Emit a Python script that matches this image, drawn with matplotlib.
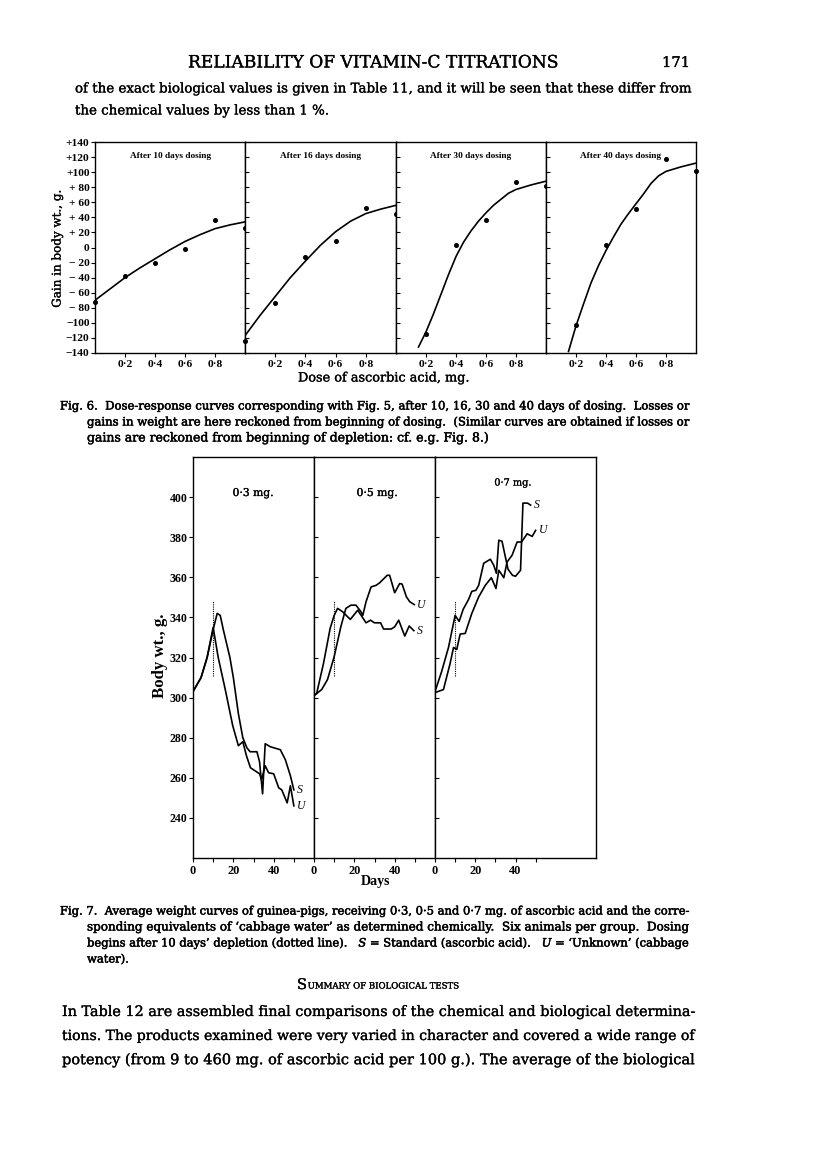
import matplotlib
matplotlib.use('Agg')
import matplotlib.pyplot as plt
import matplotlib.patheffects as pe

plt.rcParams['font.family'] = ['Liberation Serif', 'DejaVu Serif']
plt.rcParams['mathtext.fontset'] = 'dejavuserif'

W, H = 816, 1164

# ---- Fig. 6 data: dose (mg) vs gain in body weight (g)
dose_ticks = [0.2, 0.4, 0.6, 0.8]
dose_labels = ['0·2', '0·4', '0·6', '0·8']
gain_ticks = list(range(-140, 141, 20))
gain_labels = ['−140', '−120', '−100', '− 80', '− 60', '− 40', '− 20', '0',
               '+ 20', '+ 40', '+ 60', '+ 80', '+100', '+120', '+140']
dosing_titles = ['After 10 days dosing', 'After 16 days dosing',
                 'After 30 days dosing', 'After 40 days dosing']

pts_10_x = [0.0, 0.2, 0.4, 0.6, 0.8, 1.0]
pts_10_y = [-72, -38, -21, -2, 36, 26]
pts_16_x = [0.0, 0.2, 0.4, 0.6, 0.8, 1.0]
pts_16_y = [-124, -73, -12, 8, 53, 45]
pts_30_x = [0.2, 0.4, 0.6, 0.8, 1.0]
pts_30_y = [-115, 3, 37, 87, 81]
pts_40_x = [0.2, 0.4, 0.6, 0.8, 1.0]
pts_40_y = [-103, 3, 51, 118, 102]

curve_10_x = [0.0, 0.1, 0.2, 0.3, 0.4, 0.5, 0.6, 0.7, 0.8, 0.9, 1.0]
curve_10_y = [-70, -55, -40, -27, -15, -3, 8, 17, 25, 30, 34]
curve_16_x = [0.0, 0.1, 0.2, 0.3, 0.4, 0.5, 0.6, 0.7, 0.8, 0.9, 1.0]
curve_16_y = [-117, -90, -65, -40, -18, 3, 21, 35, 45, 51, 56]
curve_30_x = [0.15, 0.2, 0.25, 0.3, 0.35, 0.4, 0.45, 0.5, 0.55, 0.6, 0.65, 0.7, 0.75, 0.8, 0.9, 1.0]
curve_30_y = [-132, -112, -88, -62, -36, -12, 7, 22, 35, 46, 56, 64, 72, 77, 83, 88]
curve_40_x = [0.15, 0.2, 0.25, 0.3, 0.35, 0.4, 0.45, 0.5, 0.55, 0.6, 0.65, 0.7, 0.75, 0.8, 0.9, 1.0]
curve_40_y = [-138, -104, -75, -47, -24, -4, 14, 31, 45, 58, 71, 85, 95, 101, 107, 112]

# ---- Fig. 7 data: days vs body weight (g), S = standard, U = unknown
dose_titles = ['0·3 mg.', '0·5 mg.', '0·7 mg.']
wt_ticks = [240, 260, 280, 300, 320, 340, 360, 380, 400]

s03_days = [0, 4, 7, 10, 12, 13.5, 15, 18.3, 20, 22.5, 24.7, 26.7, 28.3, 31.7, 33, 34.5, 35.8, 38.3, 43.3, 45.8, 48.3, 50]
s03_wt = [303, 310, 320, 334, 342, 341, 334, 320, 310, 292, 280, 275, 273, 273, 268, 252, 277, 275.5, 274, 269, 261, 254]
u03_days = [0, 4, 7, 10, 12.5, 16, 19.7, 22.5, 24.7, 26.5, 28.5, 31.5, 33, 34, 35.8, 37.5, 40, 42.5, 44, 46.7, 48.3, 50]
u03_wt = [303, 310, 320, 335, 320, 304, 286, 276, 278, 271, 265, 263, 262, 259, 266, 262.5, 262, 255, 254, 247.5, 256, 246]

s05_days = [0, 1.3, 4.7, 8, 10, 11.7, 14.2, 18, 21.7, 25.8, 28, 30, 33, 34.5, 38.3, 40, 42, 45, 47.2, 49.5]
s05_wt = [301, 302, 317, 334.5, 341, 344.5, 342.8, 339, 343.6, 337.3, 338.6, 337.3, 337.3, 334.2, 334.2, 335.3, 338.6, 330.7, 335.7, 333.4]
u05_days = [0, 3.8, 6.7, 10, 13.3, 15.8, 18.3, 20.8, 23.3, 24.2, 25.8, 28.3, 30.8, 32.5, 36.3, 37.5, 40, 42.5, 43.7, 45.8, 47.5, 49.7]
u05_wt = [301, 304, 309, 320.4, 335.3, 344.5, 346.1, 346.1, 342.8, 341, 347.8, 355.2, 356, 357.2, 361, 361, 352.3, 356.9, 356.6, 350.3, 347.8, 346.4]

s07_days = [0, 3.3, 6.7, 10, 12, 14, 16.7, 18.3, 20.3, 21.7, 24.2, 27.5, 29.2, 30.5, 31.7, 33.3, 35, 36.3, 38.5, 40, 42.5, 43.7, 46, 47.5]
s07_wt = [303, 313, 325, 341, 338, 344, 349, 353, 353.5, 356, 367, 369, 366, 362, 378.5, 378, 370, 364, 361, 360.5, 363.5, 397, 397, 396]
u07_days = [0, 4.2, 7.5, 9.2, 10.8, 12.5, 15, 18.3, 21.7, 25, 28, 30.3, 31.7, 34.2, 35.8, 38.3, 40.8, 43, 45.8, 48.3, 50]
u07_wt = [302.5, 304, 317, 325, 324, 331.7, 332, 342, 350.2, 356, 359.8, 354.4, 363.5, 359.8, 367.6, 371, 377.6, 377.6, 381.7, 380.4, 383.4]

fig = plt.figure(figsize=(W / 100, H / 100), dpi=100)
renderer = fig.canvas.get_renderer()

SERIF = 'DejaVu Serif'
ink = [pe.withStroke(linewidth=0.35, foreground='black')]
ink_light = [pe.withStroke(linewidth=0.2, foreground='black')]


def px_axes(x0, y0, x1, y1):
    return fig.add_axes([x0 / W, 1 - y1 / H, (x1 - x0) / W, (y1 - y0) / H])


def fit(t, target, vertical=False):
    bb = t.get_window_extent(renderer)
    size = bb.height if vertical else bb.width
    t.set_fontsize(t.get_fontsize() * target / size)
    return t


def line(x0, y, s, size, x1=None, effects=ink_light, **kw):
    kw.setdefault('family', SERIF)
    t = fig.text(x0 / W, 1 - y / H, s, fontsize=size, ha='left', va='center',
                 path_effects=effects, **kw)
    if x1 is not None:
        fit(t, x1 - x0)
    return t


# ---------------- page text ----------------
line(188, 63, 'RELIABILITY OF VITAMIN-C TITRATIONS', 11, x1=557)
line(662, 63, '171', 11, x1=690)
t = line(75, 89, 'of the exact biological values is given in Table 11, and it will be seen that these differ from', 11, x1=690)
line(75, 111, 'the chemical values by less than 1 %.', t.get_fontsize())

# ---------------- Fig. 6 ----------------
f6_x = [(95, 245), (245, 396), (396, 546), (546, 696)]
f6_pts = [(pts_10_x, pts_10_y), (pts_16_x, pts_16_y), (pts_30_x, pts_30_y), (pts_40_x, pts_40_y)]
f6_curves = [(curve_10_x, curve_10_y), (curve_16_x, curve_16_y), (curve_30_x, curve_30_y), (curve_40_x, curve_40_y)]
for i, (x0, x1) in enumerate(f6_x):
    ax = px_axes(x0, 142, x1, 353)
    cx, cy = f6_curves[i]
    px, py = f6_pts[i]
    ax.plot(cx, cy, color='k', lw=1.2)
    ax.plot(px, py, 'o', color='k', ms=2.6, clip_on=False, zorder=5)
    ax.set_xlim(0, 1)
    ax.set_ylim(-140, 140)
    ax.set_xticks(dose_ticks)
    ax.set_xticklabels(dose_labels, fontsize=8.2, fontweight='bold')
    ax.set_yticks(gain_ticks)
    if i == 0:
        ax.set_yticklabels(gain_labels, fontsize=8.2, fontweight='bold')
        ax.tick_params(axis='y', direction='out', length=3, pad=1)
    else:
        ax.set_yticklabels([])
        ax.tick_params(axis='y', direction='in', length=3)
    ax.tick_params(axis='x', direction='out', length=3, pad=2)
    for sp in ax.spines.values():
        sp.set_linewidth(1.0)
    tt = ax.text(0.5, 0.935, dosing_titles[i], transform=ax.transAxes, ha='center', va='center',
                 fontsize=6.3, fontweight='bold')
    fit(tt, 81)

t = fig.text(57 / W, 1 - 249 / H, 'Gain in body wt., g.', rotation=90, ha='center', va='center',
             fontsize=10, family=SERIF, path_effects=ink_light)
fit(t, 118, vertical=True)
t = fig.text(384 / W, 1 - 378 / H, 'Dose of ascorbic acid, mg.', ha='center', va='center',
             fontsize=10, family=SERIF, path_effects=ink_light)
fit(t, 172)

t = line(60, 406, 'Fig. 6.  Dose-response curves corresponding with Fig. 5, after 10, 16, 30 and 40 days of dosing.  Losses or', 9, x1=690, effects=ink)
line(87, 422, 'gains in weight are here reckoned from beginning of dosing.  (Similar curves are obtained if losses or', 9, x1=690, effects=ink)
line(87, 438, 'gains are reckoned from beginning of depletion: cf. e.g. Fig. 8.)', 9, x1=489, effects=ink)

# ---------------- Fig. 7 ----------------
f7_x = [(193, 314, 60), (314, 435, 60), (435, 596, 80)]
f7_s = [(s03_days, s03_wt), (s05_days, s05_wt), (s07_days, s07_wt)]
f7_u = [(u03_days, u03_wt), (u05_days, u05_wt), (u07_days, u07_wt)]
title_pos = [(253, 493, 41), (377, 493, 41), (513, 483, 37)]
for i, (x0, x1, dmax) in enumerate(f7_x):
    ax = px_axes(x0, 457, x1, 858)
    sd, sw = f7_s[i]
    ud, uw = f7_u[i]
    ax.plot(sd, sw, color='k', lw=1.2)
    ax.plot(ud, uw, color='k', lw=1.2)
    ax.plot([10, 10], [311, 348], color='k', lw=0.8, ls=(0, (1, 1)))
    ax.set_xlim(0, dmax)
    ax.set_ylim(220, 420)
    ax.set_xticks([0, 10, 20, 30, 40, 50])
    ax.set_xticklabels(['0', '', '20', '', '40', ''], fontsize=8.8, fontweight='bold')
    ax.set_yticks(wt_ticks)
    if i == 0:
        ax.set_yticklabels([str(v) for v in wt_ticks], fontsize=8.6, fontweight='bold')
        ax.tick_params(axis='y', direction='out', length=3, pad=1)
    else:
        ax.set_yticklabels([])
        ax.tick_params(axis='y', direction='in', length=3)
    ax.tick_params(axis='x', direction='out', length=3, pad=2)
    for sp in ax.spines.values():
        sp.set_linewidth(1.0)
    ax.text(sd[-1] + 1.5, sw[-1], 'S', style='italic', fontsize=8.5, ha='left', va='center')
    ax.text(ud[-1] + 1.5, uw[-1], 'U', style='italic', fontsize=8.5, ha='left', va='center')
    tx, ty, tw = title_pos[i]
    tt = fig.text(tx / W, 1 - ty / H, dose_titles[i], ha='center', va='center',
                  fontsize=9, family=SERIF, path_effects=ink_light)
    fit(tt, tw)

t = fig.text(160 / W, 1 - 656 / H, 'Body wt., g.', rotation=90, ha='center', va='center',
             fontsize=11.5, fontweight='bold')
fit(t, 85, vertical=True)
t = fig.text(376 / W, 1 - 882 / H, 'Days', ha='center', va='center', fontsize=10.5, fontweight='bold')
fit(t, 30)

t = line(60, 911, 'Fig. 7.  Average weight curves of guinea-pigs, receiving 0·3, 0·5 and 0·7 mg. of ascorbic acid and the corre-', 9, x1=690, effects=ink)
line(87, 927, 'sponding equivalents of ‘cabbage water’ as determined chemically.  Six animals per group.  Dosing', 9, x1=690, effects=ink)
line(87, 943, 'begins after 10 days’ depletion (dotted line).   $S$ = Standard (ascorbic acid).   $U$ = ‘Unknown’ (cabbage', 9, x1=690, effects=ink)
line(87, 959, 'water).', t.get_fontsize(), effects=ink)

# small caps heading
s_big = line(297, 985, 'S', 10.5)
sw_px = s_big.get_window_extent(renderer).width
line(297 + sw_px + 0.5, 986, 'UMMARY OF BIOLOGICAL TESTS', 8, x1=459)

line(62, 1012, 'In Table 12 are assembled final comparisons of the chemical and biological determina-', 11, x1=693)
line(62, 1036, 'tions. The products examined were very varied in character and covered a wide range of', 11, x1=693)
line(62, 1060, 'potency (from 9 to 460 mg. of ascorbic acid per 100 g.). The average of the biological', 11, x1=693)

fig.savefig('out.png', dpi=100, facecolor='white')
